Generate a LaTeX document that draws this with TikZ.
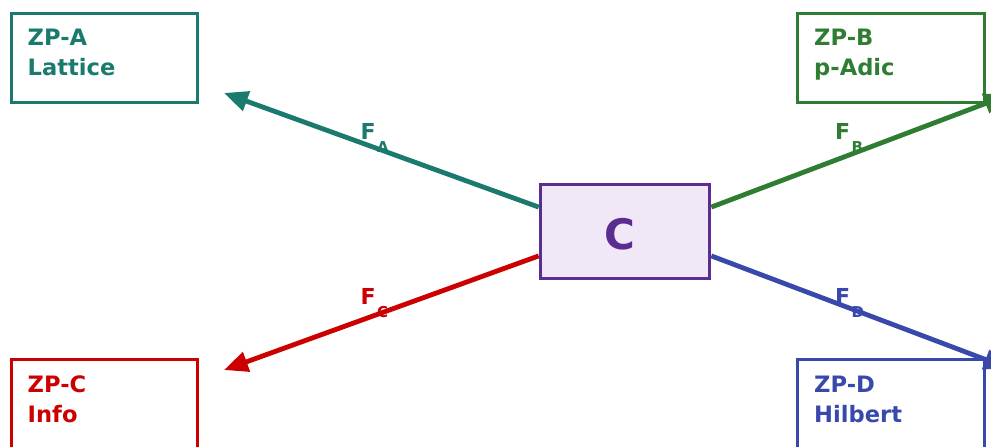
\documentclass[tikz,border=0pt]{standalone}
\usepackage{fontspec}
\setmainfont{DejaVu Sans}
\usetikzlibrary{arrows.meta,calc}
\definecolor{cteal}{HTML}{1B7A6E}
\definecolor{cgreen}{HTML}{2E7D32}
\definecolor{cred}{HTML}{CC0000}
\definecolor{cblue}{HTML}{3949AB}
\definecolor{cpurple}{HTML}{5C2D91}
\definecolor{cfill}{HTML}{F0E8F7}
\newcommand\Fsub[1]{F\kern1.5pt\raisebox{-13pt}{\fontsize{15}{15}\selectfont #1}}
\begin{document}
\begin{tikzpicture}[x=1pt,y=-1pt,
  zpbox/.style={draw,line width=3pt,minimum width=186.5pt,minimum height=89pt,inner sep=0pt},
  zptext/.style={font=\fontsize{22.6}{30}\selectfont\bfseries,align=left,anchor=north west,inner sep=0pt},
  flabel/.style={font=\fontsize{22}{22}\selectfont\bfseries,anchor=base west,inner sep=0pt},
  conn/.style={line width=4.8pt,-{Triangle[length=24pt,width=20pt]}}]
\useasboundingbox (0,0) rectangle (991,447);
\clip (0,0) rectangle (991,447);
% boxes
\node[zpbox,draw=cteal] (A) at (104.6,58.3) {};
\node[zptext,text=cteal] (At) at (27.5,29) {ZP-A\\Lattice};
\node[zpbox,draw=cgreen] (B) at (891.2,58.3) {};
\node[zptext,text=cgreen] (Bt) at (814,29) {ZP-B\\p-Adic};
\node[zpbox,draw=cred] (Cz) at (104.6,404) {};
\node[zptext,text=cred] (Ct) at (27.5,375.5) {ZP-C\\Info};
\node[zpbox,draw=cblue] (D) at (891.2,404) {};
\node[zptext,text=cblue] (Dt) at (814,375.5) {ZP-D\\Hilbert};
% centre
\node[draw=cpurple,fill=cfill,line width=3.6pt,minimum width=169pt,minimum height=94pt,inner sep=0pt] (C) at (625,231.5) {};
\node[text=cpurple,font=\fontsize{42}{42}\selectfont\bfseries,anchor=base,inner sep=0pt] (Cl) at (619.5,249) {C};
% endpoints
\coordinate (ta) at (224,93);
\coordinate (tb) at (1008,95);
\coordinate (tc) at (224,370);
\coordinate (td) at (1008,368);
\coordinate (sa) at ($(C.north west)!0.25!(C.south west)$);
\coordinate (sc) at ($(C.north west)!0.75!(C.south west)$);
\coordinate (sb) at ($(C.north east)!0.25!(C.south east)$);
\coordinate (sd) at ($(C.north east)!0.75!(C.south east)$);
\draw[conn,cteal] (sa) -- (ta);
\draw[conn,cgreen] (sb) -- (tb);
\draw[conn,cred] (sc) -- (tc);
\draw[conn,cblue] (sd) -- (td);
% labels
\node[flabel,text=cteal] (la) at (360.5,139) {\Fsub{A}};
\node[flabel,text=cgreen] (lb) at (835,139) {\Fsub{B}};
\node[flabel,text=cred] (lc) at (360.5,304) {\Fsub{C}};
\node[flabel,text=cblue] (ld) at (835,304) {\Fsub{D}};
\end{tikzpicture}
\end{document}
